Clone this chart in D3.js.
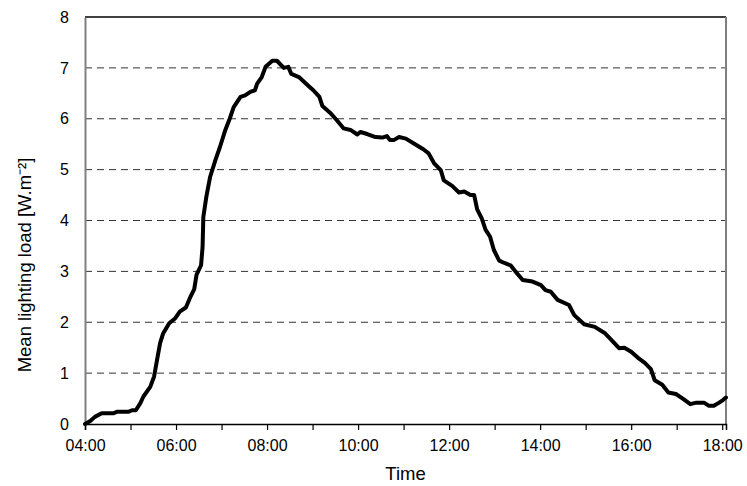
<!DOCTYPE html>
<html>
<head>
<meta charset="utf-8">
<script src="https://cdn.jsdelivr.net/npm/d3@7"></script>
<style>
	body { margin: 0; background: #fff; }
	text { font-family: "Liberation Sans", Arial, sans-serif; fill: #000; }
	.grid line { stroke: #333; stroke-width: 1; stroke-dasharray: 7,5; }
</style>
</head>
<body>
<svg id="chart" width="747" height="486"></svg>
<script>
// time of day and mean lighting load
var times = ["04:00","04:07","04:13","04:22","04:37","04:42","04:57","05:02","05:07","05:13",
	"05:17","05:26","05:31","05:35","05:39","05:43","05:51","05:59","06:05","06:13",
	"06:19","06:24","06:27","06:33","06:35","06:36","06:40","06:45","06:52","06:58",
	"07:05","07:11","07:16","07:25","07:31","07:38","07:44","07:47","07:53","07:58",
	"08:07","08:13","08:22","08:28","08:32","08:42","08:55","09:01","09:09","09:13",
	"09:23","09:32","09:41","09:50","09:59","10:03","10:12","10:23","10:32","10:38",
	"10:42","10:47","10:54","11:03","11:14","11:26","11:33","11:40","11:49","11:53",
	"12:04","12:13","12:20","12:28","12:33","12:37","12:43","12:48","12:54","12:59",
	"13:06","13:12","13:21","13:28","13:37","13:50","14:01","14:07","14:14","14:23",
	"14:38","14:45","14:58","15:12","15:25","15:36","15:44","15:51","16:00","16:09",
	"16:18","16:26","16:31","16:41","16:49","16:59","17:08","17:18","17:26","17:36",
	"17:42","17:49","17:56","18:01","18:05"];

var loads = [0.00,0.06,0.14,0.21,0.21,0.24,0.24,0.27,0.27,0.41,
	0.54,0.73,0.93,1.26,1.59,1.78,1.98,2.08,2.21,2.29,
	2.50,2.65,2.93,3.12,3.48,4.07,4.47,4.86,5.19,5.45,
	5.78,6.01,6.23,6.43,6.46,6.53,6.56,6.69,6.82,7.02,
	7.14,7.14,7.00,7.02,6.88,6.82,6.64,6.56,6.43,6.25,
	6.12,5.97,5.81,5.78,5.69,5.74,5.70,5.64,5.63,5.66,
	5.58,5.58,5.64,5.61,5.51,5.40,5.32,5.13,4.99,4.79,
	4.68,4.55,4.57,4.50,4.50,4.22,4.04,3.82,3.68,3.42,
	3.21,3.17,3.12,2.99,2.83,2.80,2.73,2.63,2.60,2.44,
	2.34,2.14,1.96,1.91,1.79,1.62,1.49,1.50,1.42,1.30,
	1.20,1.08,0.86,0.77,0.62,0.59,0.50,0.39,0.42,0.42,
	0.36,0.36,0.42,0.47,0.52];

var hourTicks = ["04:00","05:00","06:00","07:00","08:00","09:00","10:00","11:00",
	"12:00","13:00","14:00","15:00","16:00","17:00","18:00"];
var xLabels = ["04:00","06:00","08:00","10:00","12:00","14:00","16:00","18:00"];
var yTicks = [0,1,2,3,4,5,6,7,8];
var xStart = "04:00", xEnd = "18:05";

buildChart();

function buildChart() {
	var svg = d3.select("#chart"),
		width = +svg.attr("width"),
		height = +svg.attr("height");

	var margin = {top: 17, right: 21, bottom: 62, left: 85};
	var w = width - margin.left - margin.right,
		h = height - margin.top - margin.bottom;

	var parse = d3.timeParse("%H:%M");

	var data = times.map(function(t, i) { return {t: parse(t), v: loads[i]}; });

	var x = d3.scaleTime()
		.domain([parse(xStart), parse(xEnd)])
		.range([0, w]);

	var y = d3.scaleLinear()
		.domain([0, 8])
		.range([h, 0]);

	var g = svg.append("g")
		.attr("transform", "translate(" + margin.left + "," + margin.top + ")");

	// dashed gridlines
	g.append("g")
		.attr("class", "grid")
		.selectAll("line")
		.data(yTicks.filter(function(d) { return d > 0 && d < 8; }))
		.enter().append("line")
			.attr("x1", 0)
			.attr("x2", w)
			.attr("y1", function(d) { return y(d); })
			.attr("y2", function(d) { return y(d); });

	// plot frame: black top, grey right/left
	g.append("line")
		.attr("x1", 0).attr("x2", w)
		.attr("y1", y(8)).attr("y2", y(8))
		.attr("stroke", "#000").attr("stroke-width", 1.5);
	g.append("line")
		.attr("x1", w).attr("x2", w)
		.attr("y1", y(8)).attr("y2", y(0))
		.attr("stroke", "#808080").attr("stroke-width", 2);

	// y axis
	var yAxis = g.append("g")
		.call(d3.axisLeft(y).tickValues(yTicks).tickSize(0).tickPadding(16).tickFormat(d3.format("d")));
	yAxis.select(".domain").attr("stroke", "#808080").attr("stroke-width", 2);
	yAxis.selectAll("text")
		.style("font-size", "16px")
		.attr("fill", "#000");

	// x axis, ticks every hour, labels every two
	var xAxis = g.append("g")
		.attr("transform", "translate(0," + h + ")")
		.call(d3.axisBottom(x)
			.tickValues(hourTicks.map(parse))
			.tickSize(6)
			.tickPadding(10)
			.tickFormat(function(d) {
				var s = d3.timeFormat("%H:%M")(d);
				return xLabels.indexOf(s) >= 0 ? s : "";
			}));
	xAxis.select(".domain").attr("stroke", "#000").attr("stroke-width", 1.5);
	xAxis.selectAll(".tick line").attr("stroke", "#000").attr("stroke-width", 1.2);
	xAxis.selectAll("text")
		.style("font-size", "16px")
		.attr("fill", "#000");

	// the curve
	var line = d3.line()
		.x(function(d) { return x(d.t); })
		.y(function(d) { return y(d.v); });

	g.append("path")
		.datum(data)
		.attr("fill", "none")
		.attr("stroke", "#000")
		.attr("stroke-width", 4)
		.attr("stroke-linejoin", "round")
		.attr("stroke-linecap", "round")
		.attr("d", line);

	// axis titles
	svg.append("text")
		.attr("x", margin.left + w / 2)
		.attr("y", 480)
		.attr("text-anchor", "middle")
		.style("font-size", "18.5px")
		.text("Time");

	svg.append("text")
		.attr("transform", "translate(31,265) rotate(-90)")
		.attr("text-anchor", "middle")
		.style("font-size", "18.5px")
		.text("Mean lighting load [W.m⁻²]");
}
</script>
</body>
</html>
